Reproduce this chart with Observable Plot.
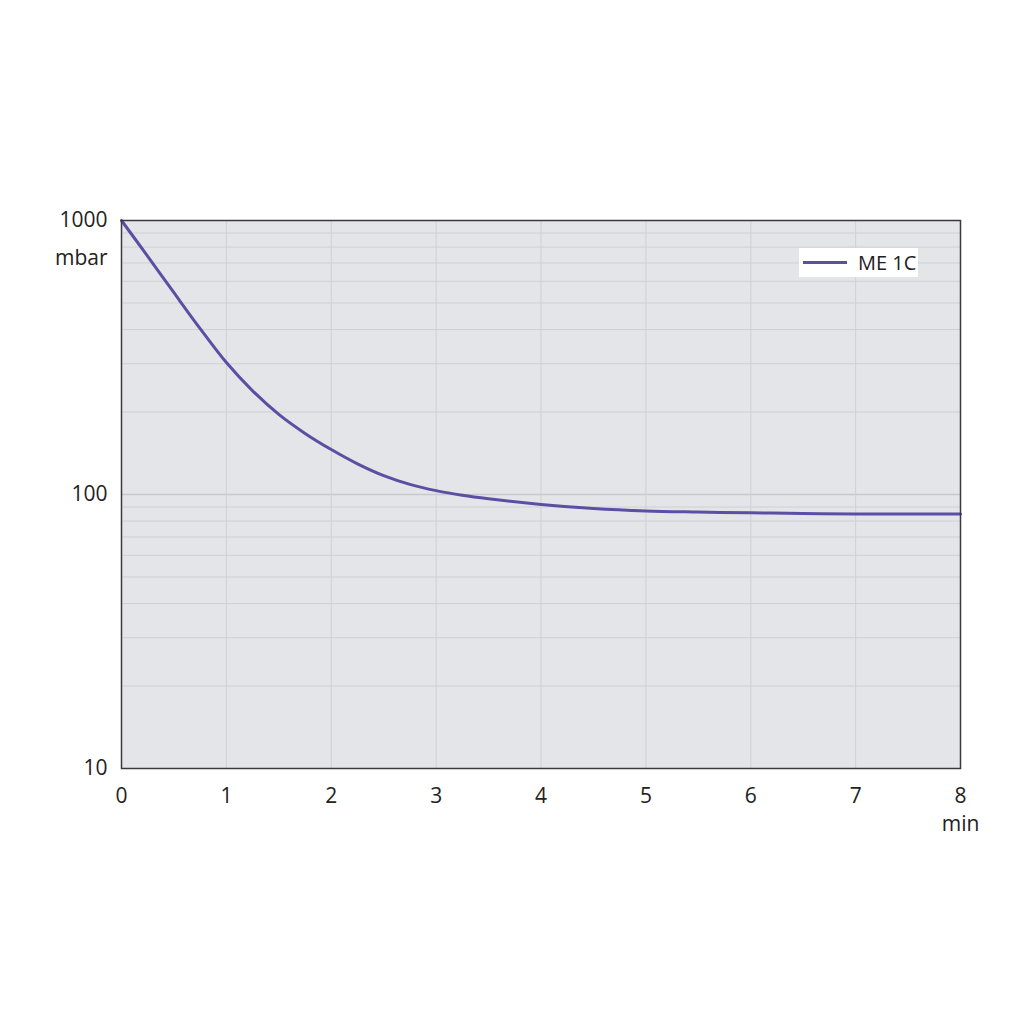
<!DOCTYPE html>
<html>
<head>
<meta charset="utf-8">
<script src="https://cdn.jsdelivr.net/npm/d3@7"></script>
<script src="https://cdn.jsdelivr.net/npm/@observablehq/plot@0.6"></script>
<style>
  html, body { margin: 0; padding: 0; background: #fff; }
  #wrap { position: relative; width: 1024px; height: 1024px; font-family: "Open Sans", sans-serif; }
  #legend { position: absolute; left: 799px; top: 248px; width: 119px; height: 29px; background: #fff;
    display: flex; align-items: center; font-size: 20px; color: #222; }
  #legend .sw { width: 44px; height: 3px; background: #5b4fa3; margin-left: 4px; margin-right: 11px; }
</style>
</head>
<body>
<div id="wrap"><div id="legend"><span class="sw"></span><span>ME 1C</span></div></div>
<script>
const seriesName = "ME 1C";
const timeMin = [0, 0.25, 0.5, 0.75, 1, 1.25, 1.5, 1.75, 2, 2.25, 2.5, 2.75, 3, 3.25, 3.5, 4, 4.5, 5, 5.5, 6, 6.5, 7, 7.5, 8];
const pressure = [1000, 740, 545, 403, 303, 239, 196, 167.1, 145.9, 129.4, 117.2, 108.9, 103.3, 99.3, 96.4, 92.0, 88.9, 87.1, 86.3, 85.7, 85.3, 84.9, 84.9, 84.9];
const xTicks = [0, 1, 2, 3, 4, 5, 6, 7, 8];
const yTicks = [10, 100, 1000];
const yMinor = [20, 30, 40, 50, 60, 70, 80, 90, 200, 300, 400, 500, 600, 700, 800, 900];

const data = timeMin.map((t, i) => ({t, p: pressure[i]}));

const chart = Plot.plot({
  width: 1024,
  height: 1024,
  marginLeft: 121,
  marginRight: 64,
  marginTop: 220,
  marginBottom: 256,
  style: {fontFamily: "Open Sans, sans-serif", fontSize: "21px", color: "#222", background: "transparent"},
  x: {domain: [0, 8]},
  y: {type: "log", domain: [10, 1000]},
  marks: [
    Plot.frame({fill: "#e4e5e8", stroke: null}),
    Plot.ruleY(yMinor, {stroke: "#cfd0d4", strokeWidth: 1}),
    Plot.ruleY([100], {stroke: "#c8c9cd", strokeWidth: 1.5}),
    Plot.ruleX(xTicks.slice(1, -1), {stroke: "#cfd0d4", strokeWidth: 1}),
    Plot.line(data, {x: "t", y: "p", stroke: "#5b4fa3", strokeWidth: 3, curve: "catmull-rom"}),
    Plot.frame({stroke: "#3a3a3a", strokeWidth: 1.5}),
    Plot.axisX({ticks: xTicks, tickSize: 0, tickPadding: 20, label: null, tickFormat: d => String(d)}),
    Plot.axisY({ticks: yTicks, tickSize: 0, tickPadding: 14, label: null, tickFormat: d => String(d)}),
    Plot.text(["mbar"], {frameAnchor: "top-left", dx: -14, dy: 30, textAnchor: "end"}),
    Plot.text(["min"], {frameAnchor: "bottom-right", dy: 62, textAnchor: "middle"})
  ]
});
chart.style.position = "absolute";
chart.style.left = "0";
chart.style.top = "0";
const wrap = document.getElementById("wrap");
wrap.insertBefore(chart, wrap.firstChild);
</script>
</body>
</html>
